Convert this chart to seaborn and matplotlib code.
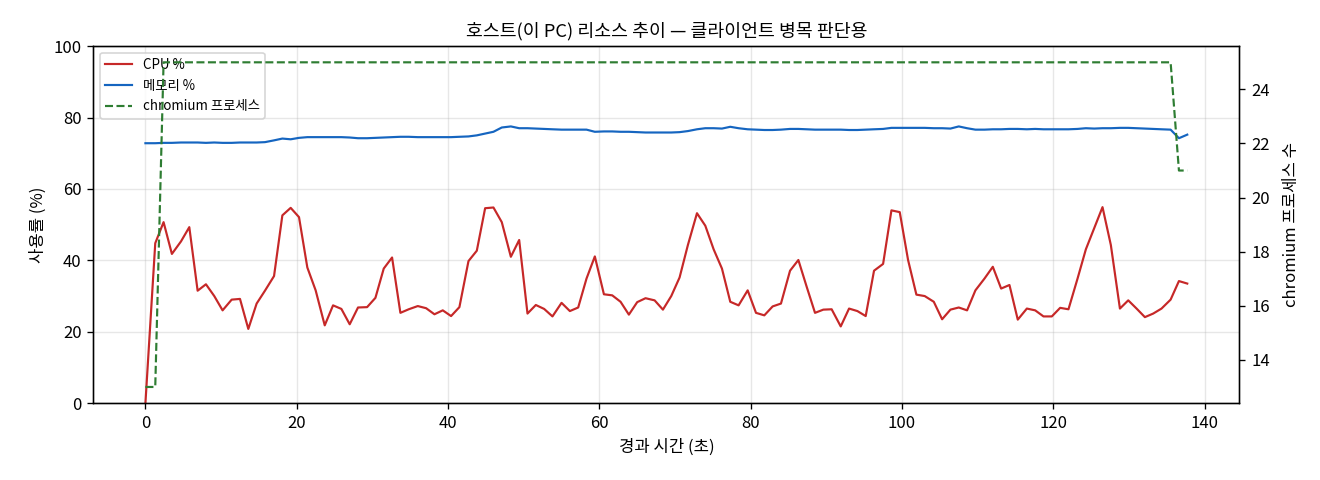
import matplotlib
matplotlib.use("Agg")
import matplotlib.pyplot as plt
import seaborn as sns
import pandas as pd

plt.rcParams['font.family'] = ['Noto Sans CJK KR', 'DejaVu Sans']
plt.rcParams['axes.unicode_minus'] = False

elapsed_s = [
    0.0, 1.3, 2.4, 3.5, 4.7, 5.8, 6.9, 8.0, 9.1, 10.2, 11.4, 12.5, 13.6, 14.7, 15.8, 17.0,
    18.1, 19.2, 20.3, 21.4, 22.5, 23.7, 24.8, 25.9, 27.0, 28.1, 29.3, 30.4, 31.5, 32.6, 33.7,
    34.8, 36.0, 37.1, 38.2, 39.3, 40.4, 41.5, 42.7, 43.8, 44.9, 46.0, 47.1, 48.3, 49.4, 50.5,
    51.6, 52.7, 53.8, 55.0, 56.1, 57.2, 58.3, 59.4, 60.6, 61.7, 62.8, 63.9, 65.0, 66.1, 67.3,
    68.4, 69.5, 70.6, 71.7, 72.9, 74.0, 75.1, 76.2, 77.3, 78.4, 79.6, 80.7, 81.8, 82.9, 84.0,
    85.2, 86.3, 87.4, 88.5, 89.6, 90.7, 91.9, 93.0, 94.1, 95.2, 96.3, 97.5, 98.6, 99.7, 100.8,
    101.9, 103.0, 104.2, 105.3, 106.4, 107.5, 108.6, 109.7, 110.9, 112.0, 113.1, 114.2, 115.3,
    116.5, 117.6, 118.7, 119.8, 120.9, 122.0, 123.2, 124.3, 125.4, 126.5, 127.6, 128.8, 129.9,
    131.0, 132.1, 133.2, 134.3, 135.5, 136.6, 137.7,
]

cpu_pct = [
    0.0, 44.8, 50.7, 41.8, 45.3, 49.3, 31.5, 33.3, 30.0, 26.0, 29.0, 29.2, 20.8, 27.9, 31.5, 35.6,
    52.6, 54.7, 52.1, 38.0, 31.6, 21.8, 27.4, 26.4, 22.1, 26.8, 26.9, 29.5, 37.7, 40.8, 25.3,
    26.3, 27.2, 26.6, 24.9, 26.0, 24.4, 26.9, 39.8, 42.7, 54.6, 54.8, 50.7, 41.0, 45.7, 25.1,
    27.5, 26.4, 24.3, 28.1, 25.8, 26.8, 34.9, 41.1, 30.5, 30.2, 28.4, 24.8, 28.3, 29.4, 28.8,
    26.2, 30.0, 35.2, 44.3, 53.2, 49.7, 43.1, 37.7, 28.4, 27.4, 31.6, 25.3, 24.6, 27.1, 27.9,
    37.1, 40.1, 32.6, 25.3, 26.2, 26.3, 21.5, 26.5, 25.8, 24.4, 37.1, 39.0, 54.0, 53.5, 40.1,
    30.4, 30.0, 28.4, 23.5, 26.2, 26.8, 26.0, 31.6, 34.9, 38.2, 32.1, 33.1, 23.4, 26.5, 26.0,
    24.3, 24.3, 26.7, 26.3, 34.9, 43.1, 49.0, 54.9, 44.3, 26.5, 28.8, 26.5, 24.1, 25.1, 26.5,
    29.0, 34.2, 33.5,
]

mem_pct = [
    72.8, 72.8, 72.9, 72.9, 73.0, 73.0, 73.0, 72.9, 73.0, 72.9, 72.9, 73.0, 73.0, 73.0, 73.1, 73.6,
    74.1, 73.9, 74.3, 74.5, 74.5, 74.5, 74.5, 74.5, 74.4, 74.2, 74.2, 74.3, 74.4, 74.5, 74.6,
    74.6, 74.5, 74.5, 74.5, 74.5, 74.5, 74.6, 74.7, 75.0, 75.5, 76.0, 77.2, 77.5, 77.0, 77.0,
    76.9, 76.8, 76.7, 76.6, 76.6, 76.6, 76.6, 76.0, 76.1, 76.1, 76.0, 76.0, 75.9, 75.8, 75.8,
    75.8, 75.8, 75.9, 76.2, 76.7, 77.0, 77.0, 76.9, 77.4, 77.0, 76.7, 76.6, 76.5, 76.5, 76.6,
    76.8, 76.8, 76.7, 76.6, 76.6, 76.6, 76.6, 76.5, 76.5, 76.6, 76.7, 76.8, 77.1, 77.1, 77.1,
    77.1, 77.1, 77.0, 77.0, 76.9, 77.5, 77.0, 76.6, 76.6, 76.7, 76.7, 76.8, 76.8, 76.7, 76.8,
    76.7, 76.7, 76.7, 76.7, 76.8, 77.0, 76.9, 77.0, 77.0, 77.1, 77.1, 77.0, 76.9, 76.8, 76.7,
    76.6, 74.2, 75.2,
]

chromium_procs = [
    13, 13, 25, 25, 25, 25, 25, 25, 25, 25, 25, 25, 25, 25, 25, 25,
    25, 25, 25, 25, 25, 25, 25, 25, 25, 25, 25, 25, 25, 25, 25,
    25, 25, 25, 25, 25, 25, 25, 25, 25, 25, 25, 25, 25, 25, 25,
    25, 25, 25, 25, 25, 25, 25, 25, 25, 25, 25, 25, 25, 25, 25,
    25, 25, 25, 25, 25, 25, 25, 25, 25, 25, 25, 25, 25, 25, 25,
    25, 25, 25, 25, 25, 25, 25, 25, 25, 25, 25, 25, 25, 25, 25,
    25, 25, 25, 25, 25, 25, 25, 25, 25, 25, 25, 25, 25, 25, 25,
    25, 25, 25, 25, 25, 25, 25, 25, 25, 25, 25, 25, 25, 25, 25,
    25, 21, 21,
]

df = pd.DataFrame({"t": elapsed_s, "cpu": cpu_pct, "mem": mem_pct, "chrom": chromium_procs})

fig, ax1 = plt.subplots(figsize=(11, 4), dpi=120)
fig.subplots_adjust(left=0.0707, right=0.9389, top=0.904, bottom=0.160)

sns.lineplot(data=df, x="t", y="cpu", ax=ax1, color="#c62828", linewidth=1.3, label="CPU %")
sns.lineplot(data=df, x="t", y="mem", ax=ax1, color="#1565c0", linewidth=1.3, label="메모리 %")
ax1.set_ylim(0, 100)
ax1.set_xlabel("경과 시간 (초)", fontsize=10)
ax1.set_ylabel("사용률 (%)", fontsize=10)
ax1.grid(True, alpha=0.3)

ax2 = ax1.twinx()
sns.lineplot(data=df, x="t", y="chrom", ax=ax2, color="#2e7d32", linewidth=1.3,
             linestyle="--", label="chromium 프로세스")
ax2.set_ylabel("chromium 프로세스 수", fontsize=10, labelpad=8)
ax2.set_xlabel("")

h1, l1 = ax1.get_legend_handles_labels()
h2, l2 = ax2.get_legend_handles_labels()
if ax2.get_legend() is not None:
    ax2.get_legend().remove()
ax1.legend(h1 + h2, l1 + l2, loc="upper left", fontsize=8)

ax1.set_title("호스트(이 PC) 리소스 추이 — 클라이언트 병목 판단용", fontsize=11)

fig.savefig("out.png", dpi=120)
